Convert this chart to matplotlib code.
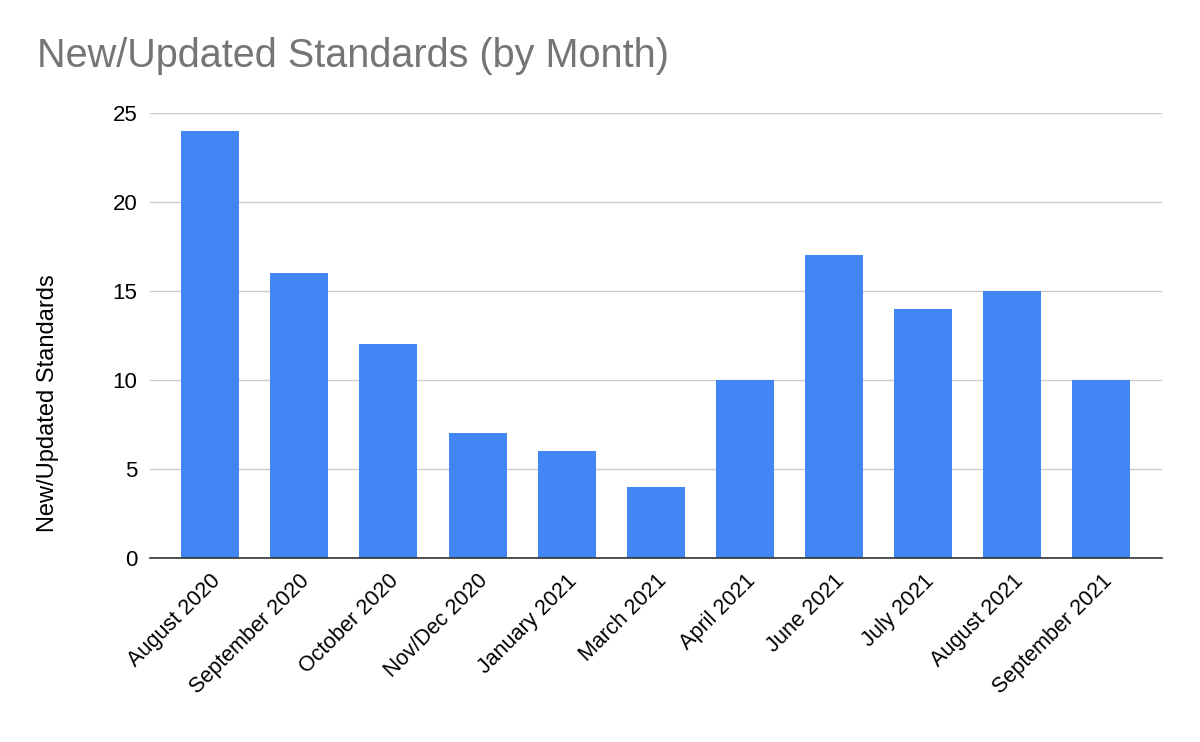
import matplotlib.pyplot as plt

plt.rcParams["font.family"] = ["Liberation Sans", "DejaVu Sans"]

months = [
    "August 2020", "September 2020", "October 2020", "Nov/Dec 2020",
    "January 2021", "March 2021", "April 2021", "June 2021",
    "July 2021", "August 2021", "September 2021",
]
standards = [24, 16, 12, 7, 6, 4, 10, 17, 14, 15, 10]
y_ticks = [0, 5, 10, 15, 20, 25]

fig = plt.figure(figsize=(12, 7.42), dpi=100)
ax = fig.add_axes([0.125, 0.248, 0.843, 0.6])

ax.bar(range(len(months)), standards, width=0.65, color="#4285F4", zorder=3)
ax.set_xlim(-0.675, len(months) - 1 + 0.675)
ax.set_ylim(0, 25)
ax.set_yticks(y_ticks)
ax.set_xticks(range(len(months)))
ax.set_xticklabels(months, rotation=45, ha="right", rotation_mode="anchor", fontsize=15.5)
ax.tick_params(axis="y", labelsize=16, length=0, pad=9)
ax.tick_params(axis="x", length=0, pad=9)
ax.grid(axis="y", color="#CCCCCC", linewidth=1, zorder=0)
ax.spines[["top", "right", "left"]].set_visible(False)
ax.spines["bottom"].set_color("#333333")
ax.spines["bottom"].set_linewidth(1.2)
ax.spines["bottom"].set_zorder(4)

fig.text(0.04, 0.457, "New/Updated Standards", fontsize=17, rotation=90, ha="center", va="center")
fig.text(0.031, 0.925, "New/Updated Standards (by Month)", fontsize=28.5, color="#757575", va="center")

fig.savefig("out.png", dpi=100)
